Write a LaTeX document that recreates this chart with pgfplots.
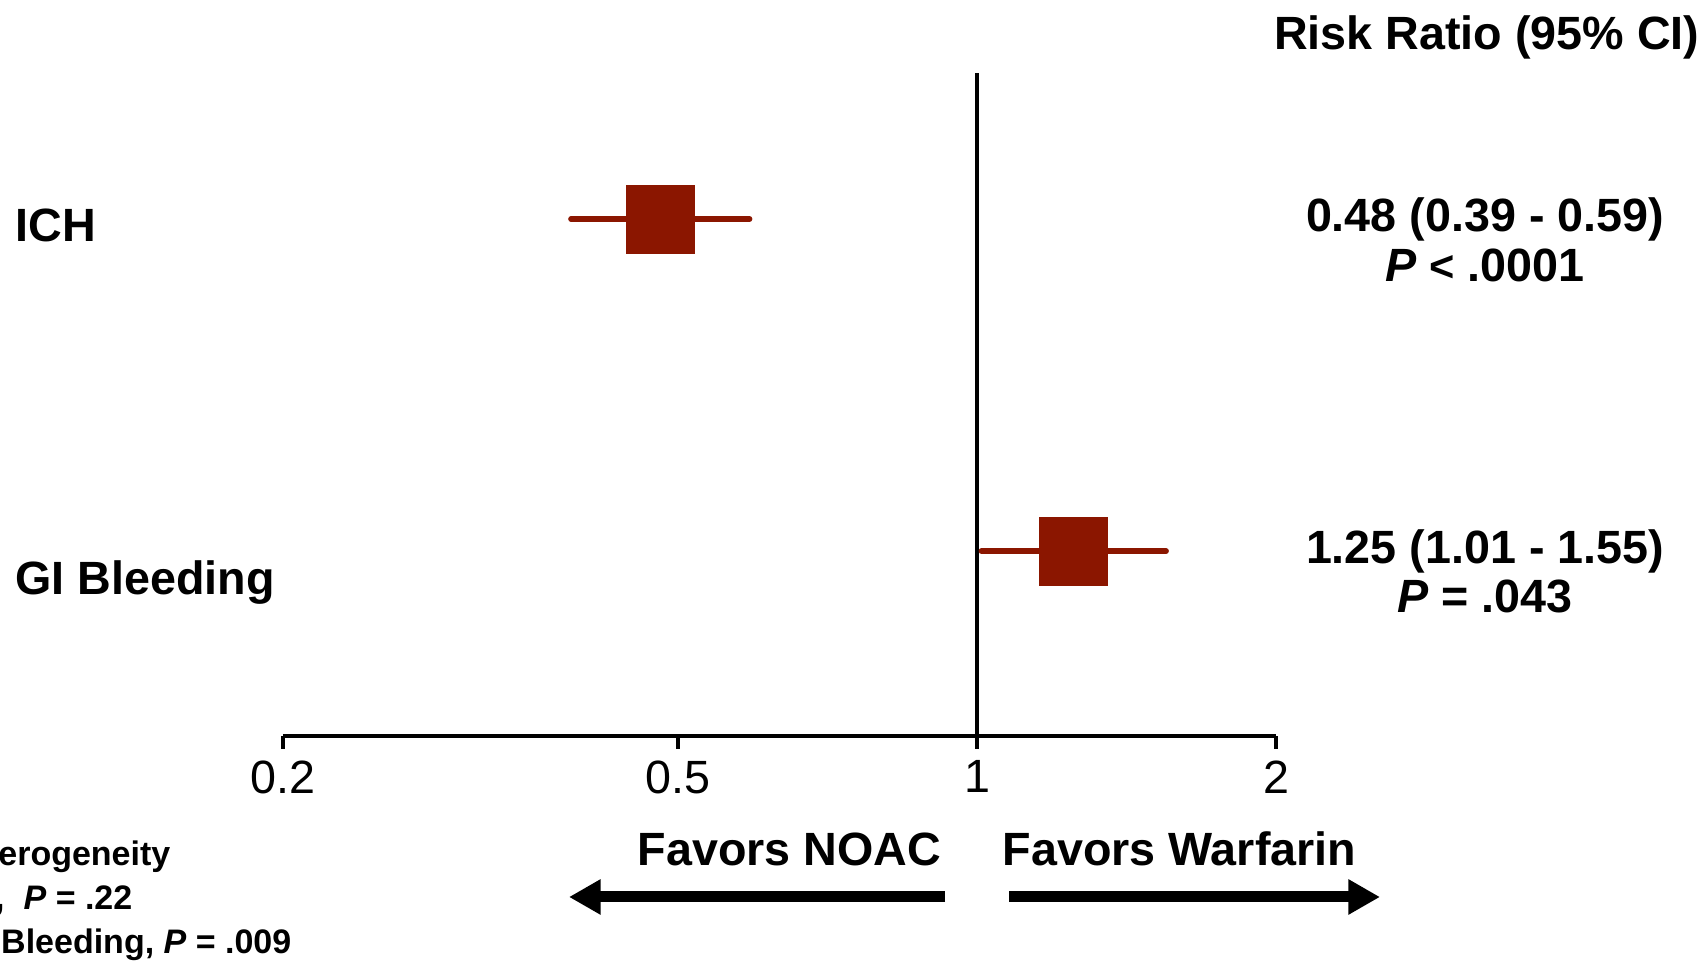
\documentclass[border=0pt]{standalone}
\usepackage{pgfplots}
\pgfplotsset{compat=1.18}
\usepackage{fontspec}
\setmainfont{Liberation Sans}
\usetikzlibrary{arrows.meta}
\definecolor{fred}{RGB}{139,22,0}
\newcommand{\bigf}{\fontsize{14}{16.8}\selectfont}
\newcommand{\smallf}{\fontsize{10.2}{12}\selectfont}
\begin{document}
\begin{tikzpicture}
\useasboundingbox (0,0) rectangle (512.1pt,288.9pt);
\clip (0,0) rectangle (512.1pt,288.9pt);
\begin{axis}[
  at={(84.9pt,68.1pt)}, anchor=south west,
  scale only axis, width=297.9pt, height=198.9pt,
  xmode=log, xmin=0.2, xmax=2, ymin=0.443, ymax=2.44,
  axis x line*=bottom, axis y line=none,
  xtick={0.2,0.5,1,2}, xticklabels={0.2,0.5,1,2},
  minor xtick={}, minor tick num=0,
  tick align=outside, major tick length=3.9pt,
  tick style={black, line width=1.1pt},
  axis line style={black, line width=1.1pt},
  xticklabel style={font=\bigf},
  clip=false,
]
\addplot[black, line width=1.1pt] coordinates {(1,0.443) (1,2.44)};
% CIs
\addplot[fred, line width=1.7pt, line cap=round] coordinates {(0.39,2) (0.59,2)};
\addplot[fred, line width=1.7pt, line cap=round] coordinates {(1.01,1) (1.55,1)};
% point estimates
\addplot[fred, only marks, mark=square*, mark size=10.2pt, mark options={draw=fred, fill=fred, line width=0.3pt}] coordinates {(0.48,2) (1.25,1)};
\end{axis}
\begin{scope}[font=\bigf\bfseries]
\node[anchor=base east, inner sep=0] at (510pt,{(963-50)*0.3pt}) {Risk Ratio (95\% CI)};
\node[anchor=base west, inner sep=0] at (4.5pt,{(963-242)*0.3pt}) {ICH};
\node[anchor=base west, inner sep=0] at (4.5pt,{(963-595)*0.3pt}) {GI Bleeding};
\node[anchor=base, inner sep=0] at (445.5pt,{(963-232)*0.3pt}) {0.48 (0.39 - 0.59)};
\node[anchor=base, inner sep=0] at (445.5pt,{(963-282)*0.3pt}) {\textit{P} {\fontsize{13}{14}\selectfont<} .0001};
\node[anchor=base, inner sep=0] at (445.5pt,{(963-564)*0.3pt}) {1.25 (1.01 - 1.55)};
\node[anchor=base, inner sep=0] at (445.5pt,{(963-613)*0.3pt}) {\textit{P} = .043};
\node[anchor=base west, inner sep=0] at (191.1pt,{(963-866)*0.3pt}) {Favors NOAC};
\node[anchor=base west, inner sep=0] at (300.6pt,{(963-866)*0.3pt}) {Favors Warfarin};
\end{scope}
\draw[line width=3.3pt, -{Triangle[length=9.5pt,width=10pt]}] (283.5pt,{(963-897)*0.3pt}) -- (170.7pt,{(963-897)*0.3pt});
\draw[line width=3.3pt, -{Triangle[length=9.5pt,width=10pt]}] (302.7pt,{(963-897)*0.3pt}) -- (414pt,{(963-897)*0.3pt});
\begin{scope}[font=\smallf\bfseries]
\node[anchor=base east, inner sep=0] at (51.3pt,{(963-866)*0.3pt}) {Heterogeneity};
\node[anchor=base east, inner sep=0] at (39.9pt,{(963-910)*0.3pt}) {ICH,\ \ \textit{P} = .22};
\node[anchor=base east, inner sep=0] at (87.6pt,{(963-954)*0.3pt}) {GI Bleeding,\ \textit{P} = .009};
\end{scope}
\end{tikzpicture}
\end{document}
